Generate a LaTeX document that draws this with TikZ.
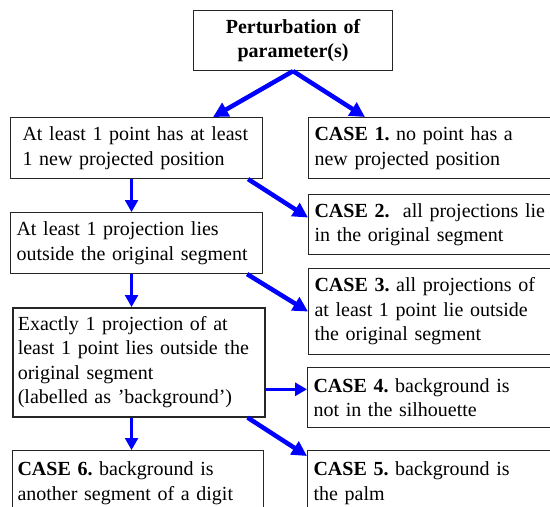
\documentclass[tikz,border=0pt]{standalone}
\usepackage{fontspec}
\setmainfont{Liberation Serif}
\usetikzlibrary{arrows.meta}
\definecolor{caseblue}{RGB}{0,0,255}
\frenchspacing

\begin{document}
\begin{tikzpicture}[
  x=1pt, y=-1pt,
  every node/.style={font=\fontsize{20}{24.5}\selectfont},
  box/.style={draw=black!85, line width=1.1pt, anchor=north west,
              align=left, inner ysep=0pt},
  topbox/.style={box, align=center, font=\fontsize{20}{24.5}\selectfont\bfseries},
  bigarrow/.style={-{Triangle[length=15pt, width=15pt]}, line width=4.5pt, caseblue},
  smallarrow/.style={-{Triangle[length=12pt, width=13pt]}, line width=2.3pt, caseblue},
]
\useasboundingbox (0,0) rectangle (550,507);
\clip (0,0) rectangle (550,507);

%% Root
\node[topbox, text width=187pt, inner xsep=6pt, minimum height=60pt]
  (pert) at (193,10) {Perturbation of\\parameter(s)};

%% Left column
\node[box, text width=228pt, inner xsep=12pt, minimum height=61pt]
  (n1) at (10,117) {At least 1 point has at least\\1 new projected position};
\node[box, text width=240pt, inner xsep=6pt, minimum height=61pt]
  (n2) at (10,212) {At least 1 projection lies\\outside the original segment};
\node[box, line width=1.6pt, text width=242pt, inner xsep=5pt, minimum height=109pt]
  (n3) at (12,307) {Exactly 1 projection of at\\least 1 point lies outside the\\original segment\\(labelled as ’background’)};
\node[box, text width=241pt, inner xsep=5pt, minimum height=65pt]
  (case6) at (12,450) {\textbf{CASE 6.} background is\\another segment of a digit};

%% Right column
\node[box, text width=232pt, inner xsep=6pt, minimum height=61pt]
  (case1) at (308,117) {\textbf{CASE 1.} no point has a\\new projected position};
\node[box, text width=232pt, inner xsep=6pt, minimum height=60pt]
  (case2) at (308,194) {\textbf{CASE 2.}~ all projections lie\\in the original segment};
\node[box, text width=232pt, inner xsep=6pt, minimum height=86pt]
  (case3) at (308,268) {\textbf{CASE 3.} all projections of\\at least 1 point lie outside\\the original segment};
\node[box, text width=233pt, inner xsep=6pt, minimum height=60pt]
  (case4) at (307,367) {\textbf{CASE 4.} background is\\not in the silhouette};
\node[box, text width=233pt, inner xsep=6pt, minimum height=65pt]
  (case5) at (307,450) {\textbf{CASE 5.} background is\\the palm};

%% Arrows from the root
\draw[bigarrow] (pert.south) -- ([xshift=-50pt]n1.north east);
\draw[bigarrow] (pert.south) -- ([xshift=57pt]case1.north west);

%% Down the left column
\draw[smallarrow] ([xshift=-5pt]n1.south) -- ([xshift=-5pt]n1.south |- n2.north);
\draw[smallarrow] ([xshift=-5pt]n2.south) -- ([xshift=-5pt]n2.south |- n3.north);
\draw[smallarrow] ([xshift=-5pt]n2.south |- n3.south) -- ([xshift=-5pt]n2.south |- case6.north);

%% Across to the cases
\draw[bigarrow] ([xshift=-15pt]n1.south east) -- ([yshift=7pt]case2.west);
\draw[bigarrow] ([xshift=-16pt]n2.south east) -- (case3.west);
\draw[smallarrow, line width=3pt] ([yshift=-27pt]n3.east) coordinate (h4) -- (h4 -| case4.west);
\draw[bigarrow] ([xshift=-18pt]n3.south east) -- ([yshift=-6pt]case5.north west);

\end{tikzpicture}
\end{document}
